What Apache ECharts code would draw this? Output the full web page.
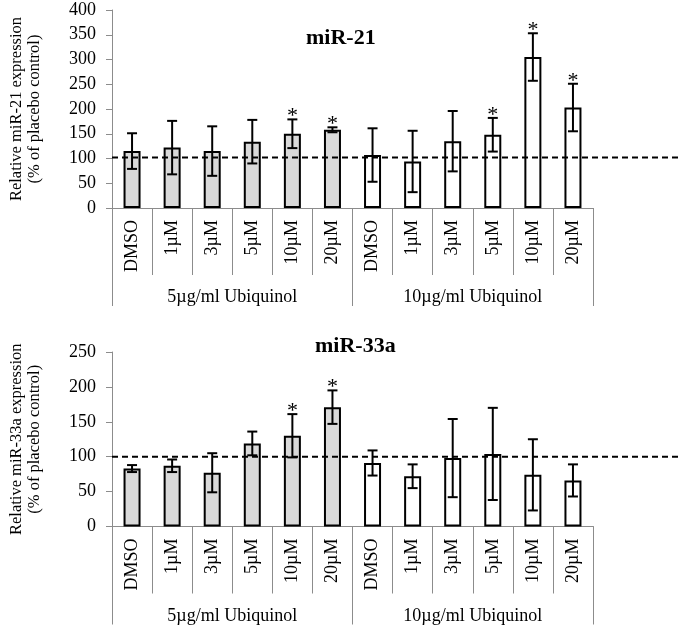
<!DOCTYPE html>
<html>
<head>
<meta charset="utf-8">
<script src="https://cdn.jsdelivr.net/npm/echarts@6/dist/echarts.min.js"></script>
<style>html,body{margin:0;padding:0;background:#fff;}#c{width:680px;height:626px;}</style>
</head>
<body>
<div id="c"></div>
<script>
// ---- data ----
const categories = ['DMSO','1µM','3µM','5µM','10µM','20µM','DMSO','1µM','3µM','5µM','10µM','20µM'];
const groups = ['5µg/ml Ubiquinol','10µg/ml Ubiquinol'];
const mir21Mean = [115,122,115,134,150,158,107,94,135,148,305,203];
const mir21Err  = [36,54,50,44,29,5,54,62,61,34,48,48];
const mir21Sig  = [0,0,0,0,1,1,0,0,0,1,1,1];
const mir33Mean = [83,87,77,119,130,171,91,72,98,104,74,66];
const mir33Err  = [5,9,28,17,31,24,18,17,56,66,51,23];
const mir33Sig  = [0,0,0,0,1,1,0,0,0,0,0,0];
const refLine21 = 102;
const refLine33 = 100;
const yTicks21 = {min:0,max:400,interval:50};
const yTicks33 = {min:0,max:250,interval:50};

const FONT = "'Liberation Serif','Times New Roman',serif";
const GRAY = '#8c8c8c';

function xAxes(gridIndex, groupMargin){
  return [{
    gridIndex, type:'category', data:categories, position:'bottom',
    axisLine:{show:true,lineStyle:{color:GRAY,width:1}},
    axisTick:{show:true,interval:0,length:67,lineStyle:{color:GRAY,width:1}},
    axisLabel:{interval:0,rotate:90,margin:12,fontSize:18,fontFamily:FONT,color:'#000'}
  },{
    gridIndex, type:'category', data:groups, position:'bottom',
    axisLine:{show:true,lineStyle:{color:GRAY,width:1}},
    axisTick:{show:true,interval:0,length:98,lineStyle:{color:GRAY,width:1}},
    axisLabel:{interval:0,margin:groupMargin,fontSize:18,fontFamily:FONT,color:'#000'}
  }];
}
function yAxis(gridIndex, ticks, name){
  return {
    gridIndex, type:'value', min:ticks.min, max:ticks.max, interval:ticks.interval,
    name:name, nameLocation:'middle', nameRotate:90, nameGap:68,
    nameTextStyle:{fontSize:16.5,fontFamily:FONT,color:'#000',lineHeight:18},
    axisLine:{show:true,lineStyle:{color:GRAY,width:1}},
    axisTick:{show:true,length:6,lineStyle:{color:GRAY}},
    splitLine:{show:false},
    axisLabel:{margin:16,fontSize:18,fontFamily:FONT,color:'#000'}
  };
}
function barSeries(xi, yi, means){
  return {
    type:'bar', xAxisIndex:xi, yAxisIndex:yi, barWidth:17, z:2,
    data: means.map((v,i)=>({value:v,itemStyle:{color: i<6 ? '#d9d9d9' : '#ffffff'}})),
    itemStyle:{borderColor:'#000',borderWidth:2},
    silent:true
  };
}
function errSeries(xi, yi, means, errs, sigs){
  return {
    type:'custom', xAxisIndex:xi, yAxisIndex:yi, z:4, clip:false, silent:true,
    data: means.map((m,i)=>[i,m,errs[i],sigs[i]]),
    renderItem:function(params, api){
      const i = api.value(0), m = api.value(1), e = api.value(2), s = api.value(3);
      const top = api.coord([i, m+e]);
      const bot = api.coord([i, m-e]);
      const x = top[0], hw = 5;
      const st = {stroke:'#000', lineWidth:2};
      const children = [
        {type:'line', shape:{x1:x,y1:top[1],x2:x,y2:bot[1]}, style:st},
        {type:'line', shape:{x1:x-hw,y1:top[1],x2:x+hw,y2:top[1]}, style:st},
        {type:'line', shape:{x1:x-hw,y1:bot[1],x2:x+hw,y2:bot[1]}, style:st}
      ];
      if (s) children.push({type:'text', style:{text:'*', x:x, y:top[1]+8, align:'center', verticalAlign:'bottom', fontSize:22, fontFamily:FONT, fill:'#000'}});
      return {type:'group', children};
    }
  };
}
function refSeries(xi, yi, val){
  return {
    type:'custom', xAxisIndex:xi, yAxisIndex:yi, z:3, clip:false, silent:true,
    data:[[0,val]],
    renderItem:function(params, api){
      const y = api.coord([0, api.value(1)])[1];
      const x0 = params.coordSys.x;
      return {type:'line', shape:{x1:x0,y1:y,x2:api.getWidth(),y2:y}, style:{stroke:'#000',lineWidth:2,lineDash:[6,4]}};
    }
  };
}

const chart = echarts.init(document.getElementById('c'), null, {renderer:'canvas'});
chart.setOption({
  animation:false,
  backgroundColor:'#fff',
  title:[
    {text:'miR-21', left:306, top:27, padding:0, textStyle:{fontSize:22,fontWeight:'bold',fontFamily:FONT,color:'#000'}},
    {text:'miR-33a', left:315, top:335, padding:0, textStyle:{fontSize:22,fontWeight:'bold',fontFamily:FONT,color:'#000'}}
  ],
  grid:[
    {left:107, top:10, width:486, height:198},
    {left:107, top:352, width:486, height:174.5}
  ],
  xAxis:[].concat(xAxes(0,80), xAxes(1,81)),
  yAxis:[
    yAxis(0, yTicks21, 'Relative miR-21 expression\n(% of placebo control)'),
    yAxis(1, yTicks33, 'Relative miR-33a expression\n(% of placebo control)')
  ],
  series:[
    barSeries(0,0,mir21Mean),
    refSeries(0,0,refLine21),
    errSeries(0,0,mir21Mean,mir21Err,mir21Sig),
    barSeries(2,1,mir33Mean),
    refSeries(2,1,refLine33),
    errSeries(2,1,mir33Mean,mir33Err,mir33Sig)
  ]
});
</script>
</body>
</html>
